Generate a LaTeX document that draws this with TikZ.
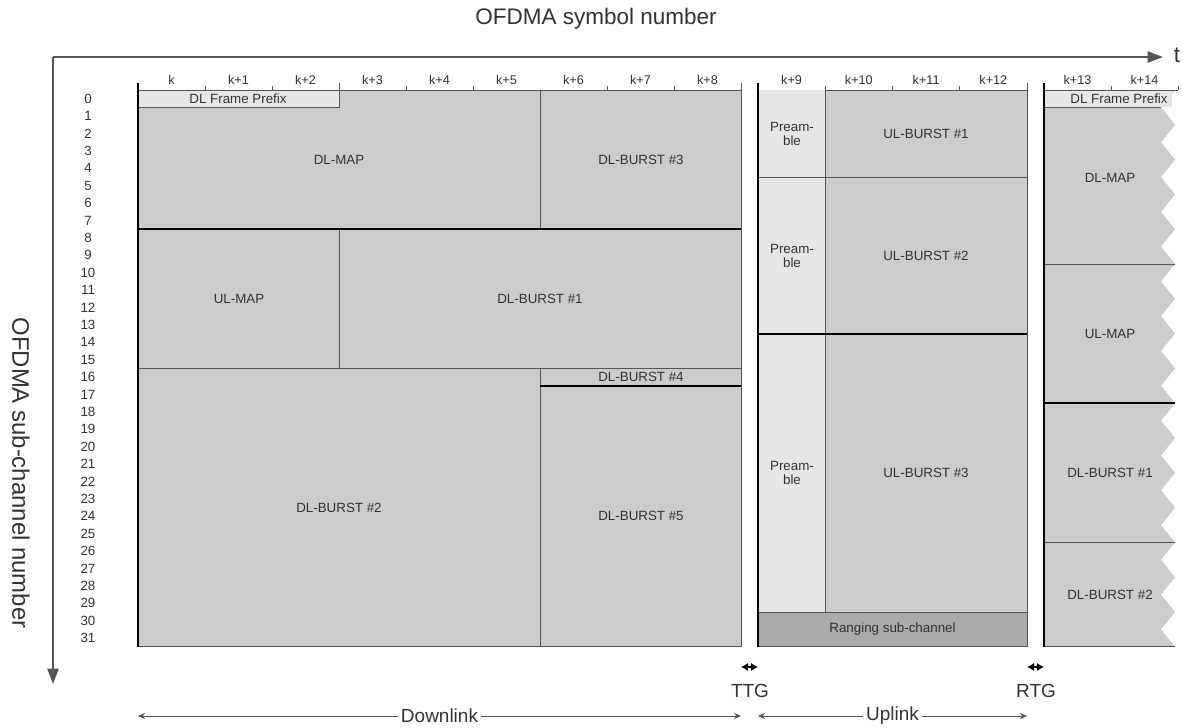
\documentclass[tikz,border=0pt]{standalone}
\usepackage{fontspec}
\setmainfont{Liberation Sans}
\usetikzlibrary{arrows.meta,positioning}

\definecolor{burstgray}{HTML}{CCCCCC}
\definecolor{prefixgray}{HTML}{E6E6E6}
\definecolor{ranggray}{HTML}{AAAAAA}
\definecolor{linegray}{HTML}{555555}
\definecolor{txtgray}{HTML}{333333}

\tikzset{
  blk/.style={fill=burstgray,draw=linegray,line width=0.7pt},
  thin/.style={draw=linegray,line width=0.7pt},
  sep/.style={draw=black,line width=1.3pt},
  lbl/.style={text=txtgray,font=\fontsize{9.5}{10.5}\selectfont,align=center,inner sep=0pt},
  ticklbl/.style={text=txtgray,font=\fontsize{9}{10}\selectfont,inner sep=0pt},
  axislbl/.style={text=txtgray,font=\fontsize{16}{18}\selectfont,inner sep=0pt},
  gaplbl/.style={text=txtgray,font=\fontsize{13.5}{15}\selectfont,inner sep=0pt},
  gaparr/.style={line width=1.6pt,{Latex[length=5pt,width=6pt]}-{Latex[length=5pt,width=6pt]}},
  spanarr/.style={linegray,line width=0.7pt,{Stealth[length=5pt,width=4.5pt]}-{Stealth[length=5pt,width=4.5pt]}}
}

\begin{document}
\begin{tikzpicture}[x=0.025cm,y=-0.025cm]
\useasboundingbox[fill=white] (0,0) rectangle (1183,728);

% axes
\coordinate (org) at (53,57);
\coordinate (tend) at (1163,57);
\coordinate (send) at (53,684);
\draw[linegray,line width=1.4pt,-{Triangle[length=11pt,width=8pt]}] (org) -- (tend);
\draw[linegray,line width=1.4pt,-{Triangle[length=11pt,width=8pt]}] (org) -- (send);
\node[axislbl] (tlbl) at (1177,55) {t};
\node[axislbl] (title) at (596,19) {OFDMA symbol number};
\node[axislbl,font=\fontsize{17}{19}\selectfont,rotate=-90] (sublbl) at (21,473) {OFDMA sub-channel number};

% sub-channel numbers
\foreach \i in {0,...,31}
  \node[ticklbl,font=\fontsize{9.5}{10}\selectfont] (n\i) at (88,{98.7+17.4*\i}) {\i};

% downlink subframe
\draw[blk] (138,90) rectangle (741,646.8);
\filldraw[thin,fill=prefixgray] (138,90) rectangle (339,107.4);
\draw[thin] (540,90) -- (540,229.2);
\draw[thin] (339,229.2) -- (339,368.4);
\draw[thin] (138,368.4) -- (741,368.4);
\draw[thin] (540,368.4) -- (540,646.8);
\draw[sep] (138,229.2) -- (741,229.2);
\draw[sep] (540,385.8) -- (741,385.8);
\draw[line width=1.3pt] (138,83) -- (138,646.8);
\draw[thin] (741,83) -- (741,90) (339,83) -- (339,90);
\foreach \j in {1,2,4,5,7,8}
  \draw[thin] ({138+67*\j},86) -- ({138+67*\j},90);
\foreach \j in {0,...,8}
  \node[ticklbl] (c\j) at ({171.5+67*\j},80) {\ifnum\j=0 k\else k+\j\fi};

\node[lbl] (dlfp) at (238,99) {DL Frame Prefix};
\node[lbl] (dlmap) at (339,160) {DL-MAP};
\node[lbl] (dlb3) at (641,160) {DL-BURST \#3};
\node[lbl] (ulmap) at (239,299) {UL-MAP};
\node[lbl] (dlb1) at (540,299) {DL-BURST \#1};
\node[lbl] (dlb4) at (641,377) {DL-BURST \#4};
\node[lbl] (dlb2) at (339,508) {DL-BURST \#2};
\node[lbl] (dlb5) at (641,516) {DL-BURST \#5};

% uplink subframe
\draw[blk] (758,90) rectangle (1027,646.8);
\fill[prefixgray] (758,90) rectangle (825.25,612);
\filldraw[thin,fill=ranggray] (758,612) rectangle (1027,646.8);
\draw[thin] (825.25,90) -- (825.25,612);
\draw[thin] (758,177) -- (1027,177);
\draw[sep] (758,333.6) -- (1027,333.6);
\draw[line width=1.3pt] (758,83) -- (758,646.8);
\draw[thin] (1027,83) -- (1027,90);
\foreach \j in {1,2,3}
  \draw[thin] ({758+67.25*\j},86) -- ({758+67.25*\j},90);
\foreach \j in {9,...,12}
  \node[ticklbl] (c\j) at ({791.6+67.25*(\j-9)},80) {k+\j};

\node[lbl] (pre1) at (792,134) {Pream-\\ble};
\node[lbl] (pre2) at (792,256) {Pream-\\ble};
\node[lbl] (pre3) at (792,473) {Pream-\\ble};
\node[lbl] (ulb1) at (926,134) {UL-BURST \#1};
\node[lbl] (ulb2) at (926,256) {UL-BURST \#2};
\node[lbl] (ulb3) at (926,473) {UL-BURST \#3};
\node[lbl] (rang) at (892.5,629.4) {Ranging sub-channel};

% next downlink subframe, cut off on the right
\fill[burstgray] (1044,90) -- (1175,90)
  \foreach \i in {0,...,15} { -- (1161,{90+34.8*(\i+0.5)}) -- (1175,{90+34.8*(\i+1)}) }
  -- (1044,646.8) -- cycle;
\fill[prefixgray] (1044,90) rectangle (1172,107.4);
\draw[thin] (1044,90) -- (1178,90);
\draw[thin] (1044,107.4) -- (1161,107.4);
\draw[thin] (1044,264) -- (1175,264);
\draw[sep] (1044,403.2) -- (1175,403.2);
\draw[thin] (1044,542.4) -- (1175,542.4);
\draw[thin] (1044,646.8) -- (1175,646.8);
\draw[line width=1.3pt] (1044,83) -- (1044,646.8);
\draw[thin] (1111,86) -- (1111,90) (1178,86) -- (1178,90);
\node[ticklbl] (c13) at (1077.5,80) {k+13};
\node[ticklbl] (c14) at (1144.5,80) {k+14};

\node[lbl] (dlfp2) at (1119,99) {DL Frame Prefix};
\node[lbl] (dlmap2) at (1110,178) {DL-MAP};
\node[lbl] (ulmap2) at (1110,334) {UL-MAP};
\node[lbl] (dlb12) at (1110,473) {DL-BURST \#1};
\node[lbl] (dlb22) at (1110,595) {DL-BURST \#2};

% gaps and link spans
\coordinate (ttgL) at (741,667);
\coordinate (ttgR) at (758,667);
\coordinate (rtgL) at (1027,667);
\coordinate (rtgR) at (1044,667);
\draw[gaparr] (ttgL) -- (ttgR);
\draw[gaparr] (rtgL) -- (rtgR);
\node[gaplbl] (ttg) at (750,691) {TTG};
\node[gaplbl] (rtg) at (1036,691) {RTG};

\coordinate (dlL) at (138,716);
\coordinate (dlR) at (741,716);
\coordinate (ulL) at (758,716);
\coordinate (ulR) at (1027,716);
\draw[spanarr] (dlL) -- (dlR)
  node[gaplbl,midway,fill=white,inner xsep=2pt] (dl) {Downlink};
\draw[spanarr] (ulL) -- (ulR)
  node[gaplbl,midway,fill=white,inner xsep=2pt] (ul) {Uplink};
\end{tikzpicture}
\end{document}
